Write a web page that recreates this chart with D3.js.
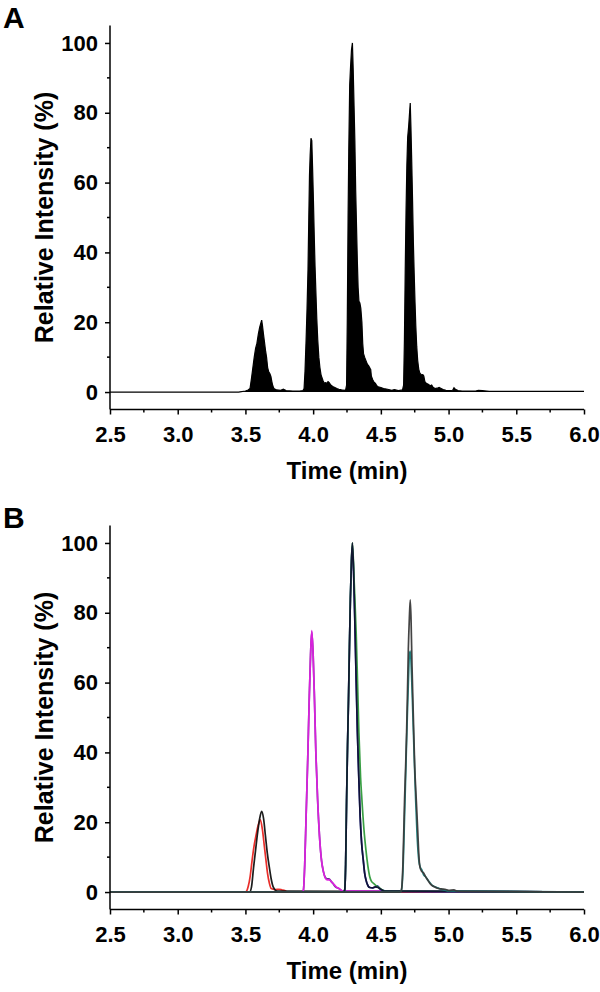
<!DOCTYPE html>
<html>
<head>
<meta charset="utf-8">
<script src="https://cdn.jsdelivr.net/npm/d3@7"></script>
<style>
  html, body { margin: 0; padding: 0; background: #fff; }
  svg text { font-family: "Liberation Sans", Arial, sans-serif; font-weight: bold; fill: #000; }
</style>
</head>
<body>
<svg id="chart" width="600" height="992"></svg>
<script>
// ---------- DATA ----------
const xTicks = [2.5, 3.0, 3.5, 4.0, 4.5, 5.0, 5.5, 6.0];
const yTicks = [0, 20, 40, 60, 80, 100];
const panelLabels = ["A", "B"];

// Panel A: total ion chromatogram (filled)
const timeA = [2.5,3.3,3.45,3.5,3.52,
 3.534,3.545,3.555,3.565,3.575,3.585,3.595,3.605,3.612,3.62,3.626,3.632,3.64,3.648,3.656,3.664,3.672,3.68,3.688,3.695,3.702,3.71,3.73,3.76,3.78,3.8,3.85,3.9,3.925,
 3.933,3.94,3.948,3.955,3.962,3.968,3.973,3.978,3.984,3.99,3.996,4.002,4.008,4.014,4.02,4.027,4.034,4.042,4.05,4.058,4.066,4.074,4.082,4.09,4.1,4.11,4.12,4.13,4.145,4.16,4.175,4.19,4.21,4.23,4.24,
 4.247,4.252,4.258,4.263,4.27,4.276,4.283,4.29,4.296,4.302,4.308,4.314,4.32,4.326,4.332,4.338,4.345,4.352,4.36,4.366,4.372,4.38,4.39,4.4,4.41,4.42,4.425,4.43,4.44,4.45,4.46,4.47,4.48,4.5,4.52,4.55,4.58,4.6,4.63,4.66,
 4.668,4.674,4.68,4.686,4.692,4.698,4.705,4.712,4.717,4.722,4.728,4.734,4.74,4.746,4.752,4.758,4.765,4.772,4.78,4.788,4.8,4.81,4.817,4.825,4.835,4.85,4.865,4.875,4.885,4.9,4.915,4.93,4.945,4.96,4.98,5.0,5.03,5.04,5.05,5.07,5.1,5.2,5.22,5.25,5.3,5.5,5.8,6.0];
const intA = [0,0,0,0.3,0.6,
 1,4,7,10,12.5,14,16.5,18.5,19.5,20.6,19,17,14.5,12,10,7,5.8,5.3,4.5,3,1.8,1,0.6,0.5,0.8,0.4,0.3,0.3,0.4,
 1,6,15,24,35,50,62,68,72.7,72,64,55,45,36,29,21,15,10,7,5,4,3.2,2.5,2.7,2.5,3,2.6,2,1.6,1.3,1,0.8,0.6,0.5,0.6,
 2,20,50,69,88,93,98,100,92,82,72,58,48,38,30,26,25.5,24,20,14,11,10,9,8,7.5,6.8,6.5,4.5,3.5,2.8,2.5,1.8,1.5,1.3,1,0.8,0.5,0.7,0.4,0.6,
 2,15,35,52,65,73,76,80,82.8,76,66,55,43,34,26,19,13,9,6.5,5.4,4.9,5,4.6,3,2.5,2.2,1.8,2,1.4,1,1.1,1.3,1,0.7,0.5,0.4,0.5,1.2,0.8,0.4,0.3,0.3,0.5,0.4,0.2,0.2,0.2,0.2];

// Panel B: extracted ion chromatograms (lines), drawn in this order
const seriesNames = ["red","black1","violet","magenta","blue","green","black3","teal","gray4"];
const seriesColors = ["#e8231f","#111111","#5a2a8a","#e020e0","#1c2aa0","#2e9a3a","#101030","#167a78","#3a3a3a"];
const timeB = {
  red:     [2.5,3.5,3.52,3.535,3.549,3.563,3.577,3.593,3.61,3.625,3.64,3.652,3.663,3.677,3.69,3.72,3.748,3.77,3.79,3.81,6.0],
  black1:  [2.5,3.53,3.545,3.56,3.575,3.59,3.605,3.62,3.634,3.648,3.662,3.677,3.69,3.705,3.734,6.0],
  magenta: [2.5,3.92,3.928,3.938,3.948,3.96,3.971,3.981,3.99,4.0,4.01,4.02,4.033,4.047,4.062,4.075,4.09,4.105,4.12,4.133,4.147,4.17,4.19,4.22,6.0],
  violet:  [2.5,3.92,3.928,3.938,3.948,3.96,3.971,3.981,3.99,4.0,4.01,4.02,4.033,4.047,4.062,4.075,4.09,4.105,4.118,4.13,4.145,4.165,4.19,4.22,6.0],
  blue:    [2.5,4.225,4.233,4.24,4.247,4.254,4.261,4.268,4.275,4.283,4.29,4.3,4.31,4.318,4.327,4.337,4.347,4.358,4.37,4.38,4.39,4.405,4.418,4.44,4.46,4.475,4.49,4.52,4.56,6.0],
  green:   [2.5,4.225,4.233,4.24,4.247,4.254,4.261,4.268,4.275,4.283,4.29,4.304,4.318,4.328,4.338,4.35,4.36,4.375,4.39,4.404,4.418,4.432,4.446,4.46,4.475,4.49,4.503,4.53,6.0],
  black3:  [2.5,4.225,4.233,4.24,4.247,4.254,4.261,4.268,4.275,4.283,4.29,4.3,4.31,4.318,4.327,4.337,4.347,4.358,4.37,4.38,4.39,4.405,4.418,4.44,4.46,4.48,4.5,4.53,6.0],
  gray4:   [2.5,4.64,4.652,4.663,4.675,4.683,4.69,4.697,4.703,4.71,4.717,4.723,4.73,4.74,4.75,4.762,4.773,4.78,4.788,4.8,4.817,4.83,4.845,4.86,4.874,4.895,4.917,4.945,4.974,5.0,5.04,5.06,5.1,6.0],
  teal:    [2.5,4.64,4.652,4.663,4.675,4.685,4.695,4.703,4.71,4.717,4.727,4.737,4.747,4.757,4.768,4.78,4.792,4.803,4.815,4.83,4.848,4.866,4.883,4.9,4.92,4.945,4.97,5.0,6.0]
};
const intB = {
  red:     [0,0,1.5,4.5,9,13,16,19,20.7,18,13,9,5.4,2.5,1,0.7,0.8,0.6,0.4,0,0],
  black1:  [0,0,1.5,7,12,17,21,23.1,21,16,11,7,3.8,1.5,0.3,0],
  magenta: [0,0,0.5,8,21.7,38,55,68,74.9,68,55,40,26.5,16,9,6,4,3.5,3.5,3,2.5,1.5,1,0.3,0],
  violet:  [0,0,0.5,8,21.7,38,55,68,74.5,68,55,40,26.5,16,9,6,4.2,3.8,3.8,3.2,2.5,1.5,1,0.3,0],
  blue:    [0,0,0.6,8,26.5,42,55,70,84,95,99,90,74,60,45.6,33,21.7,14,9.2,5.5,3.5,1.8,1.3,1.2,1.5,1.8,1,0.4,0.2,0],
  green:   [0,0,0.6,8,26.5,42,55,70,84,95,100,88,74,60,45.6,33,26.5,18,12,7.5,4.4,3,2.5,2,1.5,1.2,0.8,0.3,0],
  black3:  [0,0,0.6,8,26.5,42,55,70,84,95,100,90,74,60,45.6,33,21.7,14,9.2,5.5,3.5,1.8,1.3,1.2,1.5,1.3,0.8,0.3,0],
  gray4:   [0,0,0.6,8,26.5,36,45.6,58,69.6,78,83.7,78,64.8,50,36,26,17,11,7.3,6,5.4,4.4,3.5,2.6,2,1.5,1.1,0.9,0.8,0.5,0.6,0.3,0.2,0],
  teal:    [0,0,0.6,6,21.7,36,50,60,67.5,69,62,50,38,26.5,16,9.2,7,6.3,5,4.4,3.4,2.5,1.8,1.5,1.2,0.8,0.6,0.3,0]
};

// ---------- LAYOUT ----------
const svg = d3.select("#chart");
const panelOffsets = [0, 500];
const x = d3.scaleLinear().domain([2.5, 6.0]).range([110, 584]);
const y = d3.scaleLinear().domain([-5, 105]).range([409.5, 25.5]);

function drawAxes(g) {
  const axisStroke = 1.5;
  const ya = g.append("g").attr("transform", "translate(110,0)");
  ya.append("line").attr("x1", 0).attr("x2", 0).attr("y1", y(105)).attr("y2", y(-5))
    .attr("stroke", "#000").attr("stroke-width", axisStroke);
  const yAxis = d3.axisLeft(y).tickValues(yTicks).tickSize(5).tickSizeOuter(0).tickPadding(7);
  const yg = ya.append("g").call(yAxis);
  yg.select(".domain").remove();
  yg.selectAll(".tick line").attr("stroke", "#000").attr("stroke-width", axisStroke);
  yg.selectAll(".tick text").style("font-size", "22px").style("font-family", "Liberation Sans, Arial, sans-serif").style("font-weight", "bold").attr("fill", "#000");
  const yMinor = d3.range(10, 101, 20);
  ya.selectAll("line.minor").data(yMinor).enter().append("line")
    .attr("x1", -3).attr("x2", 0).attr("y1", d => y(d)).attr("y2", d => y(d))
    .attr("stroke", "#000").attr("stroke-width", axisStroke);

  const xa = g.append("g").attr("transform", `translate(0,${y(-5)})`);
  xa.append("line").attr("x1", x(2.5)).attr("x2", x(6.0)).attr("y1", 0).attr("y2", 0)
    .attr("stroke", "#000").attr("stroke-width", axisStroke);
  const xAxis = d3.axisBottom(x).tickValues(xTicks).tickSize(5).tickSizeOuter(0).tickPadding(12)
    .tickFormat(d3.format(".1f"));
  const xg = xa.append("g").call(xAxis);
  xg.select(".domain").remove();
  xg.selectAll(".tick line").attr("stroke", "#000").attr("stroke-width", axisStroke);
  xg.selectAll(".tick text").style("font-size", "22px").style("font-family", "Liberation Sans, Arial, sans-serif").style("font-weight", "bold").attr("fill", "#000");
  const xMinor = [2.75, 3.25, 3.75, 4.25, 4.75, 5.25, 5.75];
  xa.selectAll("line.minor").data(xMinor).enter().append("line")
    .attr("x1", d => x(d)).attr("x2", d => x(d)).attr("y1", 0).attr("y2", 3)
    .attr("stroke", "#000").attr("stroke-width", axisStroke);

  g.append("text").attr("x", (x(2.5) + x(6.0)) / 2).attr("y", 479)
    .attr("text-anchor", "middle").style("font-size", "24px").text("Time (min)");
  g.append("text").attr("transform", `translate(53,${(y(-5) + y(105)) / 2}) rotate(-90)`)
    .attr("text-anchor", "middle").style("font-size", "25px").text("Relative Intensity (%)");
}

// ---------- PANEL A ----------
const gA = svg.append("g").attr("transform", `translate(0,${panelOffsets[0]})`);
const dataA = timeA.map((t, i) => ({ t, v: intA[i] }));
gA.append("path").datum(dataA)
  .attr("d", d3.area().x(d => x(d.t)).y0(y(0)).y1(d => y(d.v)))
  .attr("fill", "#000");
gA.append("path").datum(dataA)
  .attr("d", d3.line().x(d => x(d.t)).y(d => y(d.v)))
  .attr("fill", "none").attr("stroke", "#000").attr("stroke-width", 1.2);
drawAxes(gA);
gA.append("text").attr("x", 3).attr("y", 28).style("font-size", "30px").text(panelLabels[0]);

// ---------- PANEL B ----------
const gB = svg.append("g").attr("transform", `translate(0,${panelOffsets[1]})`);
const lineB = d3.line().x(d => x(d.t)).y(d => y(d.v)).curve(d3.curveMonotoneX);
seriesNames.forEach((name, i) => {
  const pts = timeB[name].map((t, j) => ({ t, v: intB[name][j] }));
  gB.append("path").datum(pts).attr("d", lineB)
    .attr("fill", "none").attr("stroke", seriesColors[i]).attr("stroke-width", 1.7)
    .attr("stroke-linejoin", "round").attr("opacity", 0.95);
});
drawAxes(gB);
gB.append("text").attr("x", 3).attr("y", 28).style("font-size", "30px").text(panelLabels[1]);
</script>
</body>
</html>
